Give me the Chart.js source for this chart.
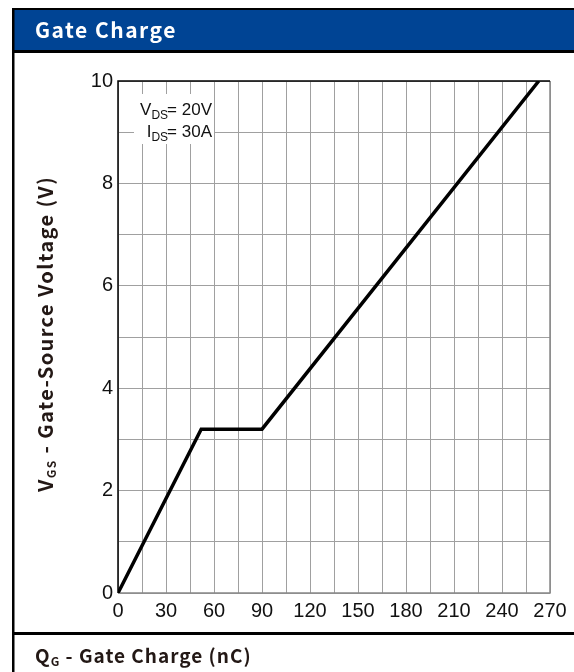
<!DOCTYPE html>
<html>
<head>
<meta charset="utf-8">
<script src="https://cdn.jsdelivr.net/npm/chart.js@4.4.0/dist/chart.umd.min.js"></script>
<style>
html,body{margin:0;padding:0;background:#fff;}
#wrap{width:574px;height:672px;position:relative;}
canvas{display:block;}
</style>
</head>
<body>
<div id="wrap"><canvas id="c" width="574" height="672"></canvas></div>
<script>
// Data
const chargeNC = [0, 52, 90, 263];
const gateVoltage = [0, 3.2, 3.2, 10];
const xTickLabels = [0, 30, 60, 90, 120, 150, 180, 210, 240, 270];
const yTickLabels = [0, 2, 4, 6, 8, 10];
const chartTitle = 'Gate Charge';
const conditions = [['V', 'DS', '= 20V'], ['I', 'DS', '= 30A']];

const W = 574, H = 672;
const PL = 118, PR = 550, PT = 81, PB = 593;
const BOLD = '"Noto Sans CJK SC", "Noto Sans", sans-serif';
const TICKF = '"Liberation Sans", Arial, sans-serif';

const framePlugin = {
  id: 'frame',
  beforeDraw(chart) {
    const ctx = chart.ctx;
    ctx.save();
    ctx.fillStyle = '#fff';
    ctx.fillRect(0, 0, W, H);
    // header
    ctx.fillStyle = '#004494';
    ctx.fillRect(13, 10, W - 13, 41);
    ctx.fillStyle = '#000';
    ctx.fillRect(12, 8, W - 12, 2);
    ctx.fillRect(12, 50, W - 12, 3);
    ctx.fillRect(12, 8, 2.5, H - 8);
    ctx.fillRect(12, 632, W - 12, 3);
    ctx.fillStyle = '#fff';
    ctx.font = 'bold 21px ' + BOLD;
    ctx.letterSpacing = '1.5px';
    ctx.textBaseline = 'middle';
    ctx.textAlign = 'left';
    ctx.fillText(chartTitle, 35, 30);
    // x title
    ctx.letterSpacing = '1px';
    ctx.fillStyle = '#231815';
    ctx.font = 'bold 19px ' + BOLD;
    ctx.fillText('Q', 35, 656);
    let qw = ctx.measureText('Q').width;
    ctx.font = 'bold 12px ' + BOLD;
    ctx.fillText('G', 35 + qw, 661);
    let gw = ctx.measureText('G').width;
    ctx.font = 'bold 19px ' + BOLD;
    ctx.fillText(' - Gate Charge (nC)', 35 + qw + gw, 656);
    // y title
    ctx.letterSpacing = '1.4px';
    ctx.save();
    ctx.translate(45, 334);
    ctx.rotate(-Math.PI / 2);
    const main = ' - Gate-Source Voltage (V)';
    ctx.font = 'bold 20px ' + BOLD;
    const vW = ctx.measureText('V').width;
    const mW = ctx.measureText(main).width;
    ctx.font = 'bold 12px ' + BOLD;
    const sW = ctx.measureText('GS').width;
    const total = vW + sW + mW;
    let x0 = -total / 2;
    ctx.font = 'bold 20px ' + BOLD;
    ctx.fillText('V', x0, 0);
    ctx.font = 'bold 12px ' + BOLD;
    ctx.fillText('GS', x0 + vW, 6);
    ctx.font = 'bold 20px ' + BOLD;
    ctx.fillText(main, x0 + vW + sW, 0);
    ctx.restore();
    ctx.letterSpacing = '0px';
    ctx.restore();
  },
  beforeDatasetsDraw(chart) {
    const ctx = chart.ctx;
    const a = chart.chartArea;
    ctx.save();
    // condition box
    ctx.fillStyle = '#fff';
    ctx.fillRect(134, 94, 80, 50);
    ctx.fillStyle = '#111';
    ctx.textBaseline = 'alphabetic';
    const rightX = 212;
    const ys = [115, 137];
    conditions.forEach((c, i) => {
      ctx.font = '17px ' + TICKF;
      const w1 = ctx.measureText(c[0]).width;
      const w3 = ctx.measureText(c[2]).width;
      ctx.font = '12px ' + TICKF;
      const w2 = ctx.measureText(c[1]).width;
      let x = rightX - w1 - w2 - w3 + 1;
      ctx.font = '17px ' + TICKF;
      ctx.fillText(c[0], x, ys[i]);
      ctx.font = '12px ' + TICKF;
      ctx.fillText(c[1], x + w1, ys[i] + 4);
      ctx.font = '17px ' + TICKF;
      ctx.fillText(c[2], x + w1 + w2 - 1, ys[i]);
    });
    // frame
    ctx.strokeStyle = '#888';
    ctx.lineWidth = 1.5;
    ctx.beginPath();
    ctx.moveTo(a.left, a.bottom); ctx.lineTo(a.right, a.bottom); ctx.lineTo(a.right, a.top);
    ctx.stroke();
    ctx.strokeStyle = '#000';
    ctx.beginPath();
    ctx.moveTo(a.right, a.top); ctx.lineTo(a.left, a.top); ctx.lineTo(a.left, a.bottom);
    ctx.stroke();
    ctx.restore();
  }
};

new Chart(document.getElementById('c'), {
  type: 'line',
  data: {
    datasets: [{
      data: chargeNC.map((x, i) => ({x: x, y: gateVoltage[i]})),
      borderColor: '#000',
      borderWidth: 3.5,
      pointRadius: 0,
      tension: 0,
      fill: false
    }]
  },
  options: {
    responsive: false,
    animation: false,
    devicePixelRatio: 1,
    layout: {padding: {left: 0, right: W - PR, top: PT, bottom: 0}},
    plugins: {legend: {display: false}, tooltip: {enabled: false}},
    scales: {
      x: {
        type: 'linear', min: 0, max: 270,
        afterFit(s) { s.height = H - PB; },
        ticks: {
          stepSize: 15, autoSkip: false, maxRotation: 0, padding: 6,
          color: '#111',
          font: {family: TICKF, size: 20},
          callback: v => xTickLabels.includes(v) ? String(v) : ''
        },
        grid: {color: '#a0a0a0', lineWidth: 1, drawTicks: false},
        border: {display: false}
      },
      y: {
        type: 'linear', min: 0, max: 10,
        afterFit(s) { s.width = PL; },
        ticks: {
          stepSize: 1, autoSkip: false, padding: 5,
          color: '#111',
          font: {family: TICKF, size: 20},
          callback: v => yTickLabels.includes(v) ? String(v) : ''
        },
        grid: {color: '#a0a0a0', lineWidth: 1, drawTicks: false},
        border: {display: false}
      }
    }
  },
  plugins: [framePlugin]
});
</script>
</body>
</html>
